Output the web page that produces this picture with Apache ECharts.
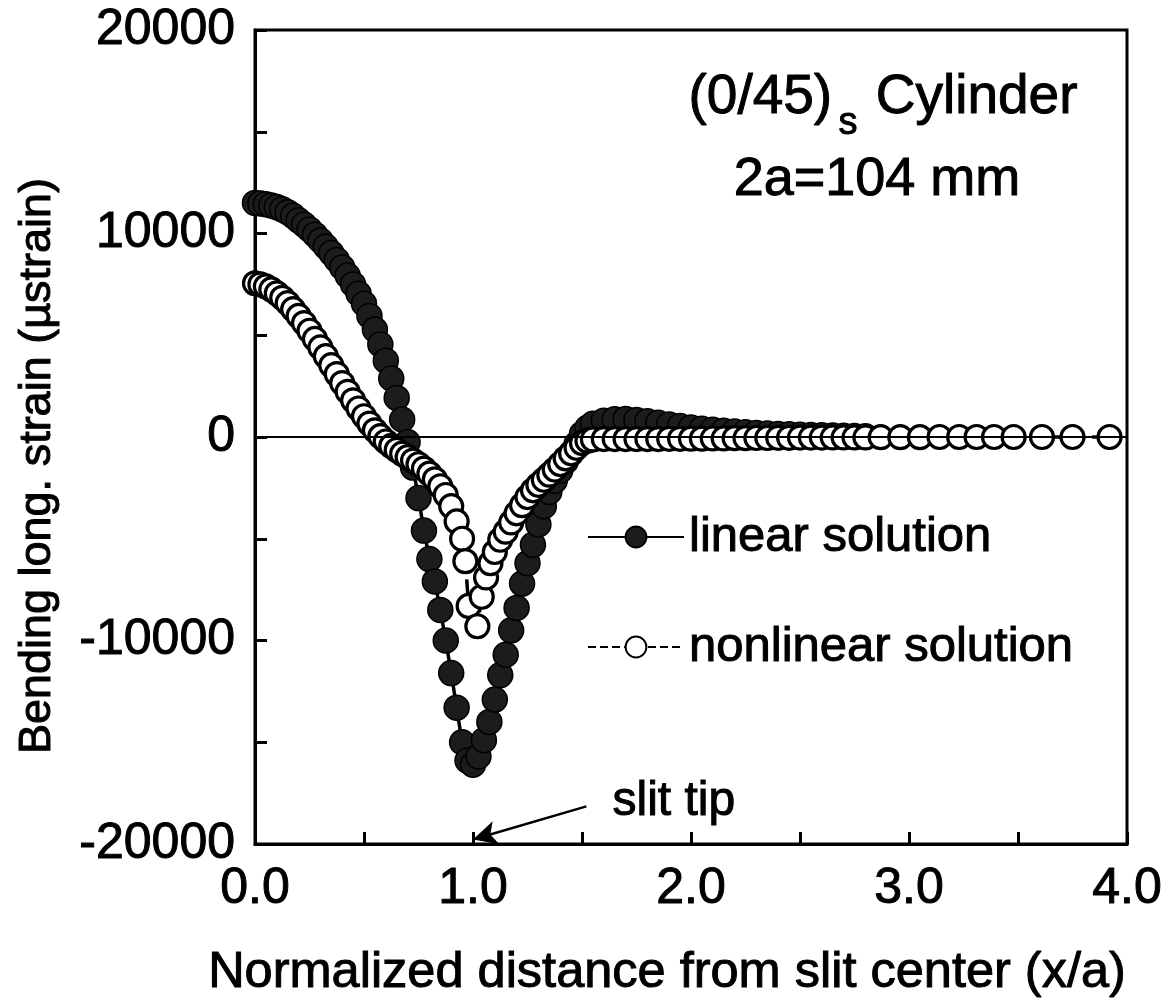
<!DOCTYPE html>
<html>
<head>
<meta charset="utf-8">
<script src="https://cdn.jsdelivr.net/npm/echarts@6/dist/echarts.min.js"></script>
<style>
html,body{margin:0;padding:0;background:#fff;}
#chart{width:1171px;height:1001px;}
</style>
</head>
<body>
<div id="chart"></div>
<script>
// ---- data ----
const linearX = [0,0.025,0.05,0.075,0.1,0.125,0.15,0.175,0.2,0.225,0.25,0.275,0.3,0.325,0.35,0.375,0.4,0.425,0.45,0.475,0.5,0.525,0.55,0.575,0.6,0.625,0.65,0.675,0.7,0.725,0.75,0.775,0.8,0.825,0.85,0.875,0.9,0.925,0.95,0.975,1.0,1.025,1.05,1.075,1.1,1.125,1.15,1.175,1.2,1.225,1.25,1.275,1.3,1.325,1.35,1.375,1.4,1.425,1.45,1.475,1.5,1.525,1.55,1.6,1.65,1.7,1.75,1.8,1.85,1.9,1.95,2.0,2.05,2.1,2.15,2.2,2.25,2.3,2.35,2.4,2.45,2.5,2.55,2.6,2.65,2.7,2.75,2.8];
const linearY = [11500,11480,11440,11380,11300,11190,11050,10870,10650,10440,10200,9940,9660,9360,9040,8700,8330,7930,7500,7040,6550,5950,5280,4550,3750,2880,1920,860,-250,-1500,-3000,-4600,-6000,-7100,-8500,-10000,-11600,-13300,-15000,-15900,-16100,-15700,-14900,-14000,-12900,-11700,-10700,-9500,-8400,-7200,-6200,-5300,-4300,-3400,-2700,-2150,-1650,-1200,-800,-350,150,450,650,800,870,880,840,780,700,620,540,470,410,360,310,270,230,200,170,150,130,110,95,80,70,60,50,40];

const nonlinearX = [0,0.025,0.05,0.075,0.1,0.125,0.15,0.175,0.2,0.225,0.25,0.275,0.3,0.325,0.35,0.375,0.4,0.425,0.45,0.475,0.5,0.525,0.55,0.575,0.6,0.625,0.65,0.675,0.7,0.725,0.75,0.775,0.8,0.825,0.85,0.875,0.9,0.925,0.95,0.965,0.98,1.02,1.04,1.06,1.08,1.1,1.125,1.15,1.175,1.2,1.225,1.25,1.275,1.3,1.325,1.35,1.375,1.4,1.425,1.45,1.475,1.5,1.525,1.55,1.6,1.65,1.7,1.75,1.8,1.85,1.9,1.95,2.0,2.05,2.1,2.15,2.2,2.25,2.3,2.35,2.4,2.45,2.5,2.55,2.6,2.65,2.7,2.75,2.8,2.87,2.96,3.05,3.14,3.23,3.31,3.39,3.48,3.61,3.75,3.92];
const nonlinearY = [7550,7500,7400,7250,7060,6840,6580,6280,5950,5600,5220,4820,4400,3970,3530,3090,2650,2220,1800,1400,1020,660,330,40,-220,-440,-640,-820,-990,-1160,-1340,-1550,-1800,-2080,-2420,-2850,-3400,-4150,-5000,-6100,-8300,-9300,-7850,-6900,-6200,-5650,-5050,-4650,-4200,-3750,-3350,-2950,-2620,-2350,-2100,-1850,-1600,-1330,-1050,-800,-530,-300,-180,-120,-100,-100,-100,-100,-100,-100,-90,-90,-80,-80,-70,-70,-60,-60,-50,-50,-40,-40,-30,-30,-30,-20,-20,-20,-20,-10,-10,-10,0,0,0,0,0,0,0,0];

const seriesNames = ['linear solution', 'nonlinear solution'];
const yTickLabels = [-20000, -10000, 0, 10000, 20000];
const xTickLabels = ['0.0', '1.0', '2.0', '3.0', '4.0'];
const slitTipArrow = [[1.52, -18150], [1.0, -19780]];

const FONT = '"Liberation Sans", Arial, Helvetica, sans-serif';
const pair = (xs, ys) => xs.map((x, i) => [x, ys[i]]);
const heavy = {textBorderColor: '#000', textBorderWidth: 1};

const chart = echarts.init(document.getElementById('chart'), null, {renderer: 'canvas'});
chart.setOption({
  animation: false,
  backgroundColor: '#fff',
  grid: {left: 255, right: 44, top: 30, bottom: 157, show: true, borderColor: '#000', borderWidth: 3, containLabel: false},
  xAxis: {
    type: 'value', min: 0, max: 4, interval: 0.5,
    axisLine: {onZero: false, lineStyle: {color: '#000', width: 3}},
    axisTick: {inside: true, length: 12, lineStyle: {color: '#000', width: 3}},
    splitLine: {show: false},
    axisLabel: Object.assign({
      margin: 20, color: '#000', fontSize: 50, fontFamily: FONT,
      formatter: v => { const i = xTickLabels.indexOf(v.toFixed(1)); return (Math.abs(v - Math.round(v)) < 1e-9 && i >= 0) ? xTickLabels[i] : ''; }
    }, heavy)
  },
  yAxis: {
    type: 'value', min: -20000, max: 20000, interval: 5000,
    axisLine: {lineStyle: {color: '#000', width: 3}},
    axisTick: {inside: true, length: 12, lineStyle: {color: '#000', width: 3}},
    splitLine: {show: false},
    axisLabel: Object.assign({
      margin: 20, color: '#000', fontSize: 50, fontFamily: FONT,
      formatter: v => yTickLabels.indexOf(v) >= 0 ? String(v) : ''
    }, heavy)
  },
  legend: {
    orient: 'vertical', left: 582, top: 507, itemGap: 60,
    itemWidth: 96, itemHeight: 26,
    textStyle: Object.assign({color: '#000', fontSize: 49, fontFamily: FONT}, heavy),
    data: seriesNames
  },
  series: [
    {
      name: seriesNames[0], type: 'line', data: pair(linearX, linearY),
      symbol: 'circle', symbolSize: 25, showAllSymbol: true,
      itemStyle: {color: '#1c1c1c', borderColor: '#000', borderWidth: 1.5},
      lineStyle: {color: '#000', width: 3.5},
      markLine: {
        silent: true, symbol: 'none', animation: false,
        label: {show: false},
        lineStyle: {color: '#000', width: 2, type: 'solid'},
        data: [{yAxis: 0}]
      }
    },
    {
      name: seriesNames[1], type: 'line', data: pair(nonlinearX, nonlinearY),
      symbol: 'circle', symbolSize: 23, showAllSymbol: true,
      itemStyle: {color: '#fff', borderColor: '#000', borderWidth: 3.2},
      lineStyle: {color: '#000', width: 3.5, type: 'dashed'}
    },
    {
      name: 'annot', type: 'line', data: [], z: 5,
      markLine: {
        silent: true, animation: false,
        symbol: ['none', 'arrow'], symbolSize: [18, 24],
        label: {show: false},
        lineStyle: {color: '#000', width: 2.5, type: 'solid'},
        data: [[{coord: slitTipArrow[0]}, {coord: slitTipArrow[1]}]]
      }
    }
  ],
  graphic: [
    {type: 'text', left: 688, top: 70, style: {text: '(0/45)', fontSize: 55, fontFamily: FONT, fill: '#000', stroke: '#000', lineWidth: 1}},
    {type: 'text', left: 838, top: 104, style: {text: 's', fontSize: 38, fontFamily: FONT, fill: '#000', stroke: '#000', lineWidth: 1}},
    {type: 'text', right: 93, top: 70, style: {text: 'Cylinder', fontSize: 55, fontFamily: FONT, fill: '#000', stroke: '#000', lineWidth: 1}},
    {type: 'text', x: 877, y: 180, style: {text: '2a=104 mm', fontSize: 54, fontFamily: FONT, fill: '#000', stroke: '#000', lineWidth: 1, align: 'center', verticalAlign: 'middle'}},
    {type: 'text', left: 612, top: 777, style: {text: 'slit tip', fontSize: 48, fontFamily: FONT, fill: '#000', stroke: '#000', lineWidth: 1}},
    {type: 'text', x: 38, y: 466, rotation: Math.PI / 2,
      style: {text: 'Bending long. strain (\u00b5strain)', fontSize: 45, fontFamily: FONT, fill: '#000', stroke: '#000', lineWidth: 1, align: 'center', verticalAlign: 'middle'}},
    {type: 'text', x: 667, y: 973,
      style: {text: 'Normalized distance from slit center (x/a)', fontSize: 50.5, fontFamily: FONT, fill: '#000', stroke: '#000', lineWidth: 1, align: 'center', verticalAlign: 'middle'}}
  ]
});
</script>
</body>
</html>
